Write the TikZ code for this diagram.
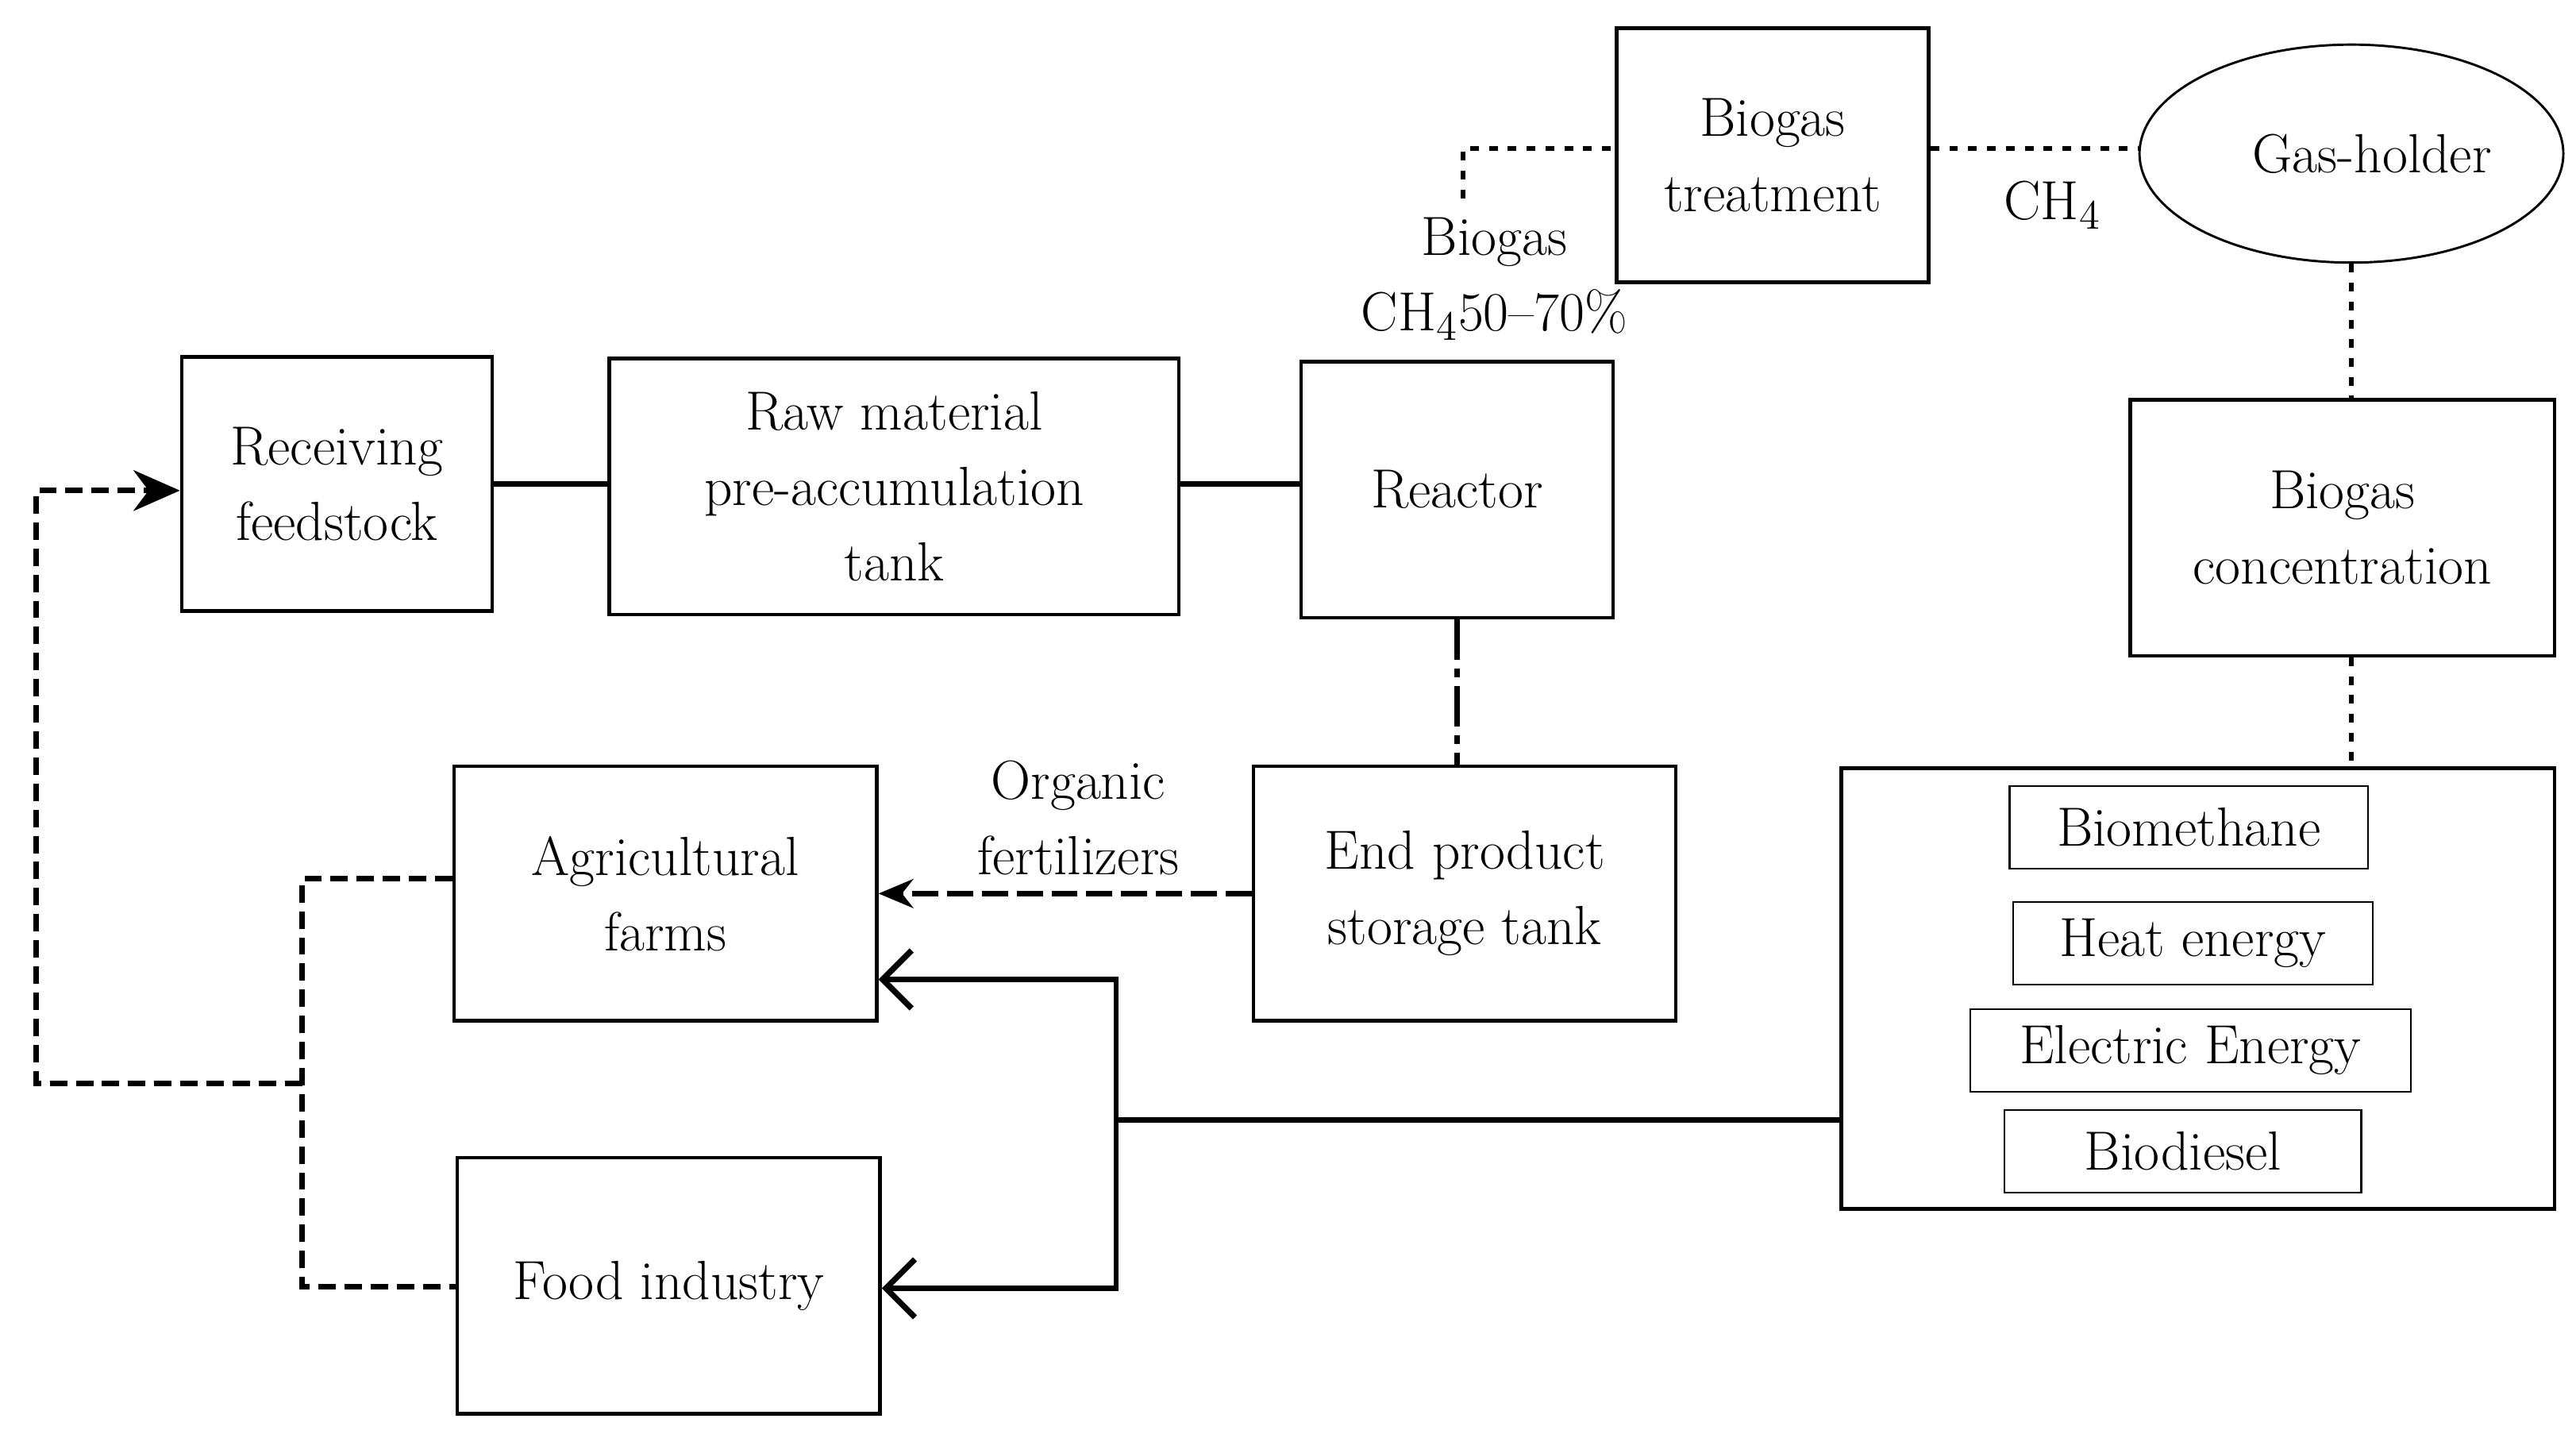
\documentclass[tikz,border=0pt]{standalone}
\usetikzlibrary{arrows.meta,shapes.geometric}
\begin{document}
\begin{tikzpicture}[x=0.02cm,y=-0.02cm,
  box/.style={draw,line width=1.2pt,align=center,font=\fontsize{19}{26}\selectfont},
  sbox/.style={draw,line width=0.6pt,align=center,font=\fontsize{19}{20}\selectfont,inner sep=0pt},
  lbl/.style={align=center,font=\fontsize{19}{26}\selectfont},
  sol/.style={line width=1.8pt},
  dot/.style={line width=1.6pt,dash pattern=on 3pt off 3.5pt},
  dsh/.style={line width=2pt,dash pattern=on 6pt off 3pt}]
\useasboundingbox (0,0) rectangle (1560,868);
\node[box,minimum width=3.76cm,minimum height=3.08cm] (rec) at (204,293) {Receiving\\feedstock};
\node[box,minimum width=6.9cm,minimum height=3.1cm] (raw) at (541.5,294.5) {Raw material\\pre-accumulation\\tank};
\node[box,minimum width=3.78cm,minimum height=3.1cm] (rea) at (882.5,296.5) {Reactor};
\node[box,minimum width=3.78cm,minimum height=3.08cm] (tre) at (1073.5,94) {Biogas\\treatment};
\node[ellipse,draw,line width=0.8pt,minimum width=5.04cm,minimum height=2.64cm,font=\fontsize{19}{26}\selectfont] (gas) at (1424,93) {\hspace*{0.5cm}Gas-holder};
\node[box,minimum width=5.14cm,minimum height=3.1cm] (con) at (1418.5,319.5) {Biogas\\concentration};
\node[box,minimum width=8.64cm,minimum height=5.34cm] (out) at (1331,598.5) {};
\node[sbox,minimum width=4.34cm,minimum height=1cm] (b1) at (1325.5,501) {Biomethane};
\node[sbox,minimum width=4.36cm,minimum height=1cm] (b2) at (1328,571) {Heat energy};
\node[sbox,minimum width=5.34cm,minimum height=1cm] (b3) at (1326.5,636) {Electric Energy};
\node[sbox,minimum width=4.32cm,minimum height=1cm] (b4) at (1322,697) {Biodiesel};
\node[box,minimum width=5.12cm,minimum height=3.08cm] (end) at (887,541) {End product\\storage tank};
\node[box,minimum width=5.12cm,minimum height=3.08cm] (agr) at (403,541) {Agricultural\\farms};
\node[box,minimum width=5.12cm,minimum height=3.1cm] (food) at (405,778.5) {Food industry};
\node[lbl] (lb1) at (905,169) {Biogas\\CH$_4$50--70\%};
\node[lbl] (lb2) at (1243,124) {CH$_4$};
\node[lbl] (lb3) at (653,495) {Organic\\fertilizers};
\coordinate (bg) at (886,120);
\coordinate (jn) at (676,678);
\coordinate (fb) at (183,656);
\draw[sol] (rec.east|-0,293) -- (raw.west|-0,293);
\draw[sol] (raw.east|-0,293) -- (rea.west|-0,293);
\draw[line width=1.8pt,dash pattern=on 14pt off 3pt on 3pt off 3pt] (rea.south) -- (end.north-|rea.south);
\draw[line width=1.8pt,dash pattern=on 9pt off 3pt,-{Stealth[length=12pt,width=10pt]}] (end.west) -- (agr.east);
\draw[dot] (bg) -- (886,90) -- (tre.west|-0,90);
\draw[dot] (tre.east|-0,90) -- (gas.west|-0,90);
\draw[dot] (gas.south) -- (con.north-|gas.south);
\draw[dot] (con.south-|gas.south) -- (out.north-|gas.south);
\draw[sol] (out.west|-0,678) -- (jn);
\draw[sol,-{Straight Barb[length=10pt,width=20pt,line width=2pt]}] (jn) -- (676,593) -- (agr.east|-0,593);
\draw[sol,-{Straight Barb[length=10pt,width=20pt,line width=2pt]}] (jn) -- (676,780) -- (food.east|-0,780);
\draw[dsh] (agr.west|-0,532) -- (183,532) -- (183,779) -- (food.west|-0,779);
\draw[dsh,-{Stealth[length=16pt,width=14pt]}] (fb) -- (22,656) -- (22,297) -- (rec.west|-0,297);
\end{tikzpicture}
\end{document}
